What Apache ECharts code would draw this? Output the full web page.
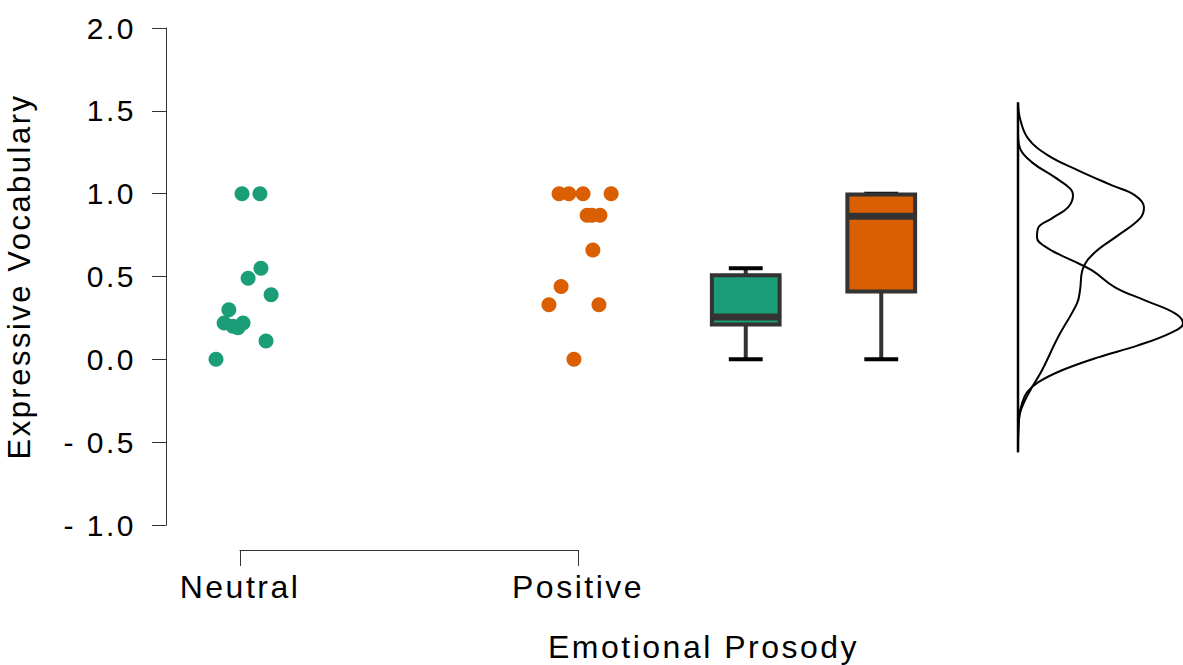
<!DOCTYPE html>
<html>
<head>
<meta charset="utf-8">
<script src="https://cdn.jsdelivr.net/npm/echarts@6/dist/echarts.min.js"></script>
<style>
html, body { margin: 0; padding: 0; background: #fff; }
#chart { width: 1183px; height: 665px; }
/* the original labels are set with wide tracking */
#chart svg text { letter-spacing: 2.5px; }
</style>
</head>
<body>
<div id="chart"></div>
<script>
const groups = ['Neutral', 'Positive'];
const colors = ['#1b9e77', '#d95f02'];

// raw points: jitter offset (category units) and value
const neutralJitter = [0.006, 0.059, 0.062, 0.024, 0.092, -0.033, -0.047, -0.021, -0.006, 0.009, 0.077, -0.071];
const neutralValues = [1.0, 1.0, 0.55, 0.49, 0.39, 0.30, 0.22, 0.20, 0.19, 0.22, 0.11, 0.0];
const positiveJitter = [-0.056, -0.027, 0.015, 0.098, 0.027, 0.041, 0.065, 0.044, -0.050, -0.086, 0.062, -0.012];
const positiveValues = [1.0, 1.0, 1.0, 1.0, 0.87, 0.87, 0.87, 0.66, 0.44, 0.33, 0.33, 0.0];

// box plots: min, q1, median, q3, max
const neutralBox = [0, 0.21, 0.255, 0.507, 0.55];
const positiveBox = [0, 0.41, 0.863, 0.995, 1.0];

// density curves (value, density)
const densNeutralY = [1.364, 1.273, 1.189, 1.098, 1.032, 0.990, 0.917, 0.851, 0.791, 0.736, 0.670, 0.597, 0.537, 0.435, 0.356, 0.278, 0.217, 0.163, 0.084, 0.012, -0.066, -0.139, -0.199, -0.266, -0.368, -0.507];
const densNeutralX = [0, 0.02, 0.14, 0.37, 0.52, 0.55, 0.50, 0.34, 0.20, 0.19, 0.30, 0.54, 0.74, 0.97, 1.27, 1.57, 1.65, 1.54, 1.20, 0.80, 0.44, 0.20, 0.09, 0.04, 0.005, 0];
const densPositiveY = [1.551, 1.454, 1.334, 1.231, 1.141, 1.050, 0.990, 0.917, 0.851, 0.748, 0.646, 0.549, 0.416, 0.338, 0.133, -0.066, -0.169, -0.247, -0.326, -0.428, -0.561];
const densPositiveX = [0, 0.02, 0.10, 0.30, 0.60, 0.94, 1.17, 1.26, 1.22, 1.00, 0.77, 0.65, 0.62, 0.59, 0.40, 0.24, 0.14, 0.07, 0.02, 0.005, 0];

const yMin = -1, yMax = 2, yStep = 0.5;

const font = 'Liberation Sans, Arial, sans-serif';
const axisColor = '#333';

function fmtTick(v) {
	return v < 0 ? '- ' + Math.abs(v).toFixed(1) : v.toFixed(1);
}

function renderBox(params, api) {
	const idx = api.value(0);
	const lo = api.coord([idx, api.value(1)]);
	const q1 = api.coord([idx, api.value(2)]);
	const med = api.coord([idx, api.value(3)]);
	const q3 = api.coord([idx, api.value(4)]);
	const hi = api.coord([idx, api.value(5)]);
	const band = api.size([1, 0])[0];
	const half = band * 0.25;
	const cap = band * 0.125;
	const x = lo[0];
	return {
		type: 'group',
		children: [
			{ type: 'line', shape: { x1: x, y1: lo[1], x2: x, y2: q1[1] }, style: { stroke: axisColor, lineWidth: 4 } },
			{ type: 'line', shape: { x1: x, y1: q3[1], x2: x, y2: hi[1] }, style: { stroke: axisColor, lineWidth: 4 } },
			{ type: 'line', shape: { x1: x - cap, y1: lo[1], x2: x + cap, y2: lo[1] }, style: { stroke: '#000', lineWidth: 4 } },
			{ type: 'line', shape: { x1: x - cap, y1: hi[1], x2: x + cap, y2: hi[1] }, style: { stroke: '#000', lineWidth: 4 } },
			{ type: 'rect', shape: { x: x - half, y: q3[1], width: half * 2, height: q1[1] - q3[1] }, style: { fill: colors[idx], stroke: axisColor, lineWidth: 4 } },
			{ type: 'line', shape: { x1: x - half, y1: med[1], x2: x + half, y2: med[1] }, style: { stroke: axisColor, lineWidth: 7 } }
		]
	};
}

const allDensY = densNeutralY.concat(densPositiveY);

const chart = echarts.init(document.getElementById('chart'), null, { renderer: 'svg' });

const hiddenY = (grid) => ({
	type: 'value', gridIndex: grid, min: yMin, max: yMax, interval: yStep,
	show: false, splitLine: { show: false }
});

chart.setOption({
	animation: false,
	backgroundColor: '#fff',
	title: {
		text: 'Emotional Prosody',
		left: 548,
		top: 631,
		padding: 0,
		textStyle: { fontFamily: font, fontSize: 32, fontWeight: 'normal', color: '#000' }
	},
	grid: [
		{ left: 240, width: 338, top: 28, height: 497, outerBoundsMode: 'none' },
		{ left: 678, width: 271, top: 28, height: 497, outerBoundsMode: 'none' },
		{ left: 1018, width: 165, top: 28, height: 497, outerBoundsMode: 'none' }
	],
	xAxis: [
		{
			type: 'value', gridIndex: 0, min: 1, max: 2, interval: 1, offset: 25,
			axisLine: { show: true, onZero: false, lineStyle: { color: axisColor, width: 1 } },
			axisTick: { show: true, length: 16, lineStyle: { color: axisColor, width: 1 } },
			axisLabel: {
				margin: 21, color: '#000', fontFamily: font, fontSize: 32,
				formatter: (v) => groups[Math.round(v) - 1] || ''
			},
			splitLine: { show: false }
		},
		{ type: 'category', gridIndex: 1, data: groups, show: false },
		{ type: 'value', gridIndex: 2, min: 0, max: 1.65, show: false, splitLine: { show: false } }
	],
	yAxis: [
		{
			type: 'value', gridIndex: 0, min: yMin, max: yMax, interval: yStep, offset: 74,
			name: 'Expressive Vocabulary', nameLocation: 'middle', nameGap: 131,
			nameTextStyle: { fontFamily: font, fontSize: 31, color: '#000' },
			axisLine: { show: true, lineStyle: { color: axisColor, width: 1 } },
			axisTick: { show: true, length: 14, lineStyle: { color: axisColor, width: 1 } },
			axisLabel: {
				margin: 30, color: '#000', fontFamily: font, fontSize: 30,
				padding: [0, 0, 6, 0], formatter: fmtTick
			},
			splitLine: { show: false }
		},
		hiddenY(1),
		hiddenY(2)
	],
	series: [
		{
			type: 'scatter', xAxisIndex: 0, yAxisIndex: 0, clip: false,
			symbolSize: 15, itemStyle: { color: colors[0], opacity: 1 },
			data: neutralValues.map((v, i) => [1 + neutralJitter[i], v])
		},
		{
			type: 'scatter', xAxisIndex: 0, yAxisIndex: 0, clip: false,
			symbolSize: 15, itemStyle: { color: colors[1], opacity: 1 },
			data: positiveValues.map((v, i) => [2 + positiveJitter[i], v])
		},
		{
			type: 'custom', xAxisIndex: 1, yAxisIndex: 1,
			renderItem: renderBox,
			encode: { x: 0, y: [1, 2, 3, 4, 5] },
			data: [[0].concat(neutralBox), [1].concat(positiveBox)]
		},
		{
			type: 'line', xAxisIndex: 2, yAxisIndex: 2, symbol: 'none', silent: true,
			lineStyle: { color: '#000', width: 2.5 },
			data: [[0, Math.min(...allDensY)], [0, Math.max(...allDensY)]]
		},
		{
			type: 'line', xAxisIndex: 2, yAxisIndex: 2, symbol: 'none', smooth: 0.4,
			lineStyle: { color: '#000', width: 2 },
			data: densPositiveY.map((y, i) => [densPositiveX[i], y])
		},
		{
			type: 'line', xAxisIndex: 2, yAxisIndex: 2, symbol: 'none', smooth: 0.4,
			lineStyle: { color: '#000', width: 2 },
			data: densNeutralY.map((y, i) => [densNeutralX[i], y])
		}
	]
});
</script>
</body>
</html>
